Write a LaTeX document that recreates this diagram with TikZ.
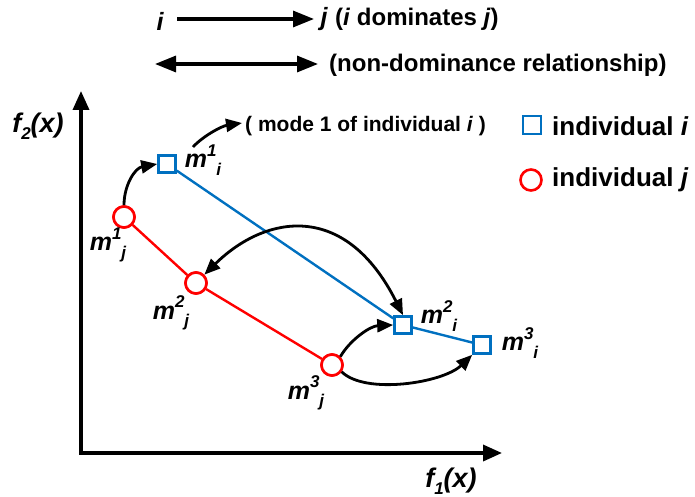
\documentclass[tikz,border=0pt]{standalone}
\usepackage{fontspec}
\setmainfont{Liberation Sans}
\usetikzlibrary{arrows.meta}
\definecolor{iblue}{RGB}{0,112,192}
\definecolor{jred}{RGB}{255,0,0}
\newcommand{\mlab}[2]{m\raisebox{0.45em}{\fontsize{17}{17}\selectfont #1}\raisebox{-0.3em}{\fontsize{17}{17}\selectfont #2}}
\newcommand{\fsub}[1]{f\raisebox{-0.25em}{\fontsize{17}{17}\selectfont #1}(x)}
\begin{document}
\begin{tikzpicture}[x=1pt,y=-1pt,
  bigarrow/.style={line width=3.2pt,-{Triangle[length=21pt,width=16pt]}},
  bigdarrow/.style={line width=3.2pt,{Triangle[length=21pt,width=16pt]}-{Triangle[length=21pt,width=16pt]}},
  axis/.style={line width=3.5pt,{Triangle[length=19pt,width=16pt]}-{Triangle[length=19pt,width=16pt]}},
  curvarrow/.style={line width=2.8pt,-{Triangle[length=16pt,width=13pt]}},
  curvdarrow/.style={line width=2.8pt,{Triangle[length=16pt,width=13pt]}-{Triangle[length=16pt,width=13pt]}},
  isq/.style={draw=iblue,line width=2.6pt,fill=white,rectangle,minimum size=17pt,inner sep=0pt},
  jcirc/.style={draw=jred,line width=2.6pt,fill=white,circle,minimum size=21pt,inner sep=0pt},
  ilink/.style={draw=iblue,line width=2.4pt},
  jlink/.style={draw=jred,line width=2.4pt},
  lab/.style={font=\fontsize{25}{28}\selectfont\bfseries\itshape,inner sep=0pt},
  txt/.style={font=\fontsize{24}{27}\selectfont\bfseries,inner sep=0pt},
]
\useasboundingbox (0,0) rectangle (695,497);

% legend on top
\node[lab] (ti) at (160,21) {i};
\node[lab] (tj) at (324,19) {j};
\draw[bigarrow] (177,19) -- (314,19);
\node[txt,anchor=west] (dom) at (335,19) {(\textit{i} dominates \textit{j})};
\coordinate (nl) at (155,64);
\coordinate (nr) at (318,64);
\draw[bigdarrow] (nl) -- (nr);
\node[txt,anchor=west] (nondom) at (329,65) {(non-dominance relationship)};

% axes
\coordinate (ytop) at (81,91);
\coordinate (xend) at (502,453);
\draw[axis,line join=miter] (ytop) |- (xend);
\node[lab,font=\fontsize{27}{30}\selectfont\bfseries\itshape] (f2) at (38,126) {\fsub{2}};
\node[lab,font=\fontsize{27}{30}\selectfont\bfseries\itshape] (f1) at (451,481) {\fsub{1}};

% points
\node[isq] (m1i) at (167,164) {};
\node[isq] (m2i) at (403,325) {};
\node[isq] (m3i) at (482,345) {};
\node[jcirc] (m1j) at (124,217) {};
\node[jcirc] (m2j) at (196,283) {};
\node[jcirc] (m3j) at (332,365) {};

\draw[ilink] (m1i) -- (m2i) -- (m3i);
\draw[jlink] (m1j) -- (m2j) -- (m3j);
\node[isq] at (m1i) {};
\node[isq] at (m2i) {};
\node[isq] at (m3i) {};
\node[jcirc] at (m1j) {};
\node[jcirc] at (m2j) {};
\node[jcirc] at (m3j) {};

% labels
\node[lab] (l1i) at (203,160) {\mlab{1}{i}};
\node[lab] (l1j) at (108,245) {\mlab{1}{j}};
\node[lab] (l2j) at (171,313) {\mlab{2}{j}};
\node[lab] (l3j) at (306,393) {\mlab{3}{j}};
\node[lab] (l2i) at (439,316) {\mlab{2}{i}};
\node[lab] (l3i) at (520,343) {\mlab{3}{i}};

% curved arrows
\draw[curvarrow] (m1j.north) .. controls (124,185) and (135,168) .. (m1i.west);
\coordinate (ma) at (193,147);
\coordinate (mb) at (242,123);
\draw[curvarrow] (ma) .. controls (203,136) and (222,126) .. (mb);
\node[font=\fontsize{21}{24}\selectfont\bfseries,inner sep=0pt,anchor=west] (mode) at (245,126) {( mode 1 of individual \textit{i} )};
\draw[curvdarrow] (m2j.45) .. controls (265,215) and (345,200) .. (m2i.north);
\draw[curvarrow] (m3j.north east) .. controls (350,340) and (370,326) .. (m2i.west);
\draw[curvarrow] (m3j.-35) .. controls (365,395) and (443,383) .. (m3i.south west);

% legend
\node[isq,minimum size=18pt] (legi) at (532,125) {};
\node[txt,font=\fontsize{26}{28}\selectfont\bfseries,anchor=west] (legit) at (552,126) {individual \textit{i}};
\node[jcirc] (legj) at (531,180) {};
\node[txt,font=\fontsize{26}{28}\selectfont\bfseries,anchor=west] (legjt) at (552,180) {individual \textit{j}};
\end{tikzpicture}
\end{document}
